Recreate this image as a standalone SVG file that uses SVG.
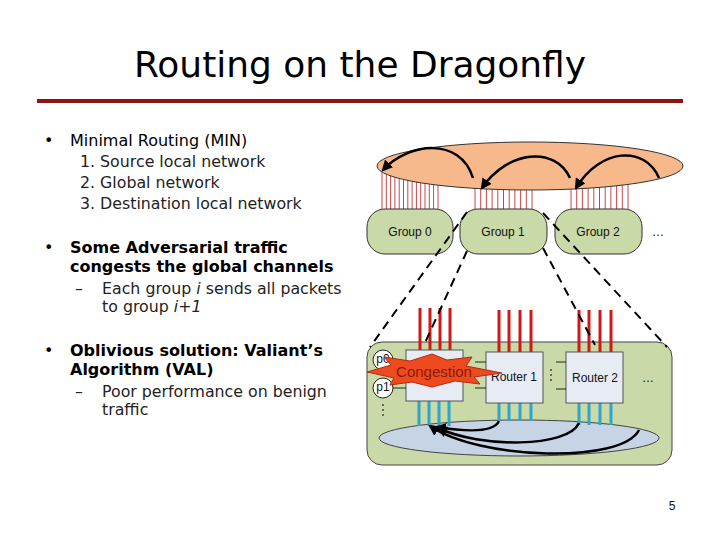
<svg xmlns="http://www.w3.org/2000/svg" width="720" height="540" viewBox="0 0 720 540">
<style>
.t{font-family:"DejaVu Sans",Verdana,sans-serif;fill:#000}
.b{font-size:16px}
.bb{font-size:16px;font-weight:bold}
.s{font-size:15.8px;fill:#222}
.lbl{font-family:"Liberation Sans",Arial,sans-serif;font-size:12px;fill:#111}
.grp{fill:#C9D9A7;stroke:#333;stroke-width:1}
.rt{fill:#E7ECF4;stroke:#555;stroke-width:1}
.gl{stroke:#C8484A;stroke-width:1}
.rl{stroke:#D01818;stroke-width:3}
.bl{stroke:#2FA6CA;stroke-width:3}
.arr{fill:none;stroke:#000;stroke-width:2.5}
.dash{fill:none;stroke:#000;stroke-width:2;stroke-dasharray:9,6}
.sh{stroke:#222;stroke-width:1}
</style>
<defs>
<marker id="ah" viewBox="0 0 10 10" refX="8" refY="5" markerWidth="4.5" markerHeight="4.5" orient="auto" markerUnits="strokeWidth">
<path d="M0,0 L10,5 L0,10 z" fill="#000"/>
</marker>
</defs>
<rect width="720" height="540" fill="#fff"/>
<text class="t" x="360" y="77" font-size="35" text-anchor="middle" textLength="452" lengthAdjust="spacingAndGlyphs">Routing on the Dragonfly</text>
<rect x="37" y="99" width="646" height="4" fill="#8E1414"/>

<g id="text-left">
<text class="t b" x="44" y="146">•</text>
<text class="t b" x="70" y="146">Minimal Routing (MIN)</text>
<text class="t s" x="80" y="167">1. Source local network</text>
<text class="t s" x="80" y="188">2. Global network</text>
<text class="t s" x="80" y="209">3. Destination local network</text>
<text class="t b" x="44" y="253">•</text>
<text class="t bb" x="70" y="253">Some Adversarial traffic</text>
<text class="t bb" x="70" y="272">congests the global channels</text>
<text class="t s" x="75" y="294">–</text>
<text class="t s" x="102" y="294">Each group <tspan font-style="italic">i</tspan> sends all packets</text>
<text class="t s" x="102" y="312">to group <tspan font-style="italic">i+1</tspan></text>
<text class="t b" x="44" y="356">•</text>
<text class="t bb" x="70" y="356">Oblivious solution: Valiant’s</text>
<text class="t bb" x="70" y="375">Algorithm (VAL)</text>
<text class="t s" x="75" y="397">–</text>
<text class="t s" x="102" y="397">Poor performance on benign</text>
<text class="t s" x="102" y="415">traffic</text>
</g>

<g id="global-links">
<path class="gl" d="M382,170V210M386.3,170V210M390.6,170V210M394.9,170V210M399.2,170V210M403.5,170V210M407.8,170V210M412.1,170V210M416.4,170V210M420.7,170V210M425,170V210M429.3,170V210M433.6,170V210M438,170V210"/>
<path class="gl" d="M475,175V210M480.7,175V210M486.4,175V210M492.1,175V210M497.8,175V210M503.5,175V210M509.2,175V210M514.9,175V210M520.6,175V210M526.3,175V210M532,175V210"/>
<path class="gl" d="M571,175V210M576.7,175V210M582.4,175V210M588.1,175V210M593.8,175V210M599.5,175V210M605.2,175V210M610.9,175V210M616.6,175V210M622.3,175V210M628,175V210"/>
</g>
<g id="global-network">
<ellipse cx="530" cy="166" rx="153" ry="24" fill="#F7B98B" stroke="#333" stroke-width="1"/>
</g>
<g id="group0"><rect class="grp" x="367" y="209" width="86" height="45" rx="18"/><text class="lbl" x="410" y="236" text-anchor="middle">Group 0</text></g>
<g id="group1"><rect class="grp" x="460" y="209" width="87" height="45" rx="18"/><text class="lbl" x="503" y="236" text-anchor="middle">Group 1</text></g>
<g id="group2"><rect class="grp" x="555" y="209" width="87" height="45" rx="18"/><text class="lbl" x="598" y="236" text-anchor="middle">Group 2</text></g>
<text class="lbl" x="658" y="236" text-anchor="middle" fill="#444">…</text>

<g id="group-detail">
<rect x="367" y="342" width="305" height="123" rx="15" fill="#C9D9A7" stroke="#444" stroke-width="1"/>
<ellipse cx="519" cy="438" rx="140" ry="18" fill="#C7D4E6" stroke="#444" stroke-width="1"/>
</g>

<g id="router0">
<path class="rl" d="M420,308V350M430,308V350M440,308V350M450,308V350"/>
<path class="bl" d="M419,401V426M429,401V426M439,401V426M449,401V426"/>
<rect class="rt" x="406" y="350" width="57" height="51"/>
</g>
<g id="router1">
<path class="rl" d="M499,310V352M509,310V352M520,310V352M531,310V352"/>
<path class="bl" d="M499,403V421M509,403V421M520,403V421M531,403V421"/>
<rect class="rt" x="486" y="352" width="57" height="51"/>
<text class="lbl" x="514" y="381" text-anchor="middle">Router 1</text>
</g>
<g id="router2">
<path class="rl" d="M579,310V352M589,310V352M600,310V352M611,310V352"/>
<path class="bl" d="M579,403V425M589,403V425M600,403V425M611,403V425"/>
<rect class="rt" x="566" y="352" width="57" height="51"/>
<text class="lbl" x="595" y="382" text-anchor="middle">Router 2</text>
</g>
<text class="lbl" x="648" y="382" text-anchor="middle" fill="#444">…</text>

<g id="p0"><circle cx="383" cy="360" r="10" fill="#fff" stroke="#222"/><text class="lbl" x="383" y="363" font-size="9" text-anchor="middle">p0</text></g>
<g id="p1"><circle cx="383" cy="388" r="10" fill="#fff" stroke="#222"/><text class="lbl" x="383" y="391" font-size="9" text-anchor="middle">p1</text></g>

<g id="connectors">
<path class="sh" d="M393,388H406M393,362H406M475,388H486M475,362H486M556,362H566M556,389H566"/>
<g fill="#333"><circle cx="383" cy="405" r="0.9"/><circle cx="383" cy="410" r="0.9"/><circle cx="383" cy="415" r="0.9"/><circle cx="551" cy="370" r="0.9"/><circle cx="551" cy="375" r="0.9"/><circle cx="551" cy="380" r="0.9"/></g>
<path class="arr" marker-end="url(#ah)" d="M659,178 C645,145 600,148 576,188"/>
<path class="arr" marker-end="url(#ah)" d="M570,178 C555,146 508,150 482,188"/>
<path class="arr" marker-end="url(#ah)" d="M473,178 C460,136 408,143 383,170"/>
<path class="arr" marker-end="url(#ah)" d="M499,421 C494,432 468,432 437,427"/>
<path class="arr" marker-end="url(#ah)" d="M579,423 C568,448 480,448 438,428"/>
<path class="arr" marker-end="url(#ah)" d="M639,430 C622,464 480,460 430,426"/>
<path class="dash" d="M467,212L370,347M467,251L424,345M543,248L595,345M543,213L667,347"/>
</g>

<g id="congestion">
<polygon points="367,372 391,365 384,357 410,361 432,354 447,360 472,357 466,366 502,373 474,377 480,384 455,381 432,387 412,382 390,385 394,378" fill="#EF4A1F" stroke="#B32A10" stroke-width="1"/>
<text x="434" y="377" font-family="'Liberation Sans',Arial,sans-serif" font-size="15" fill="#8A1C05" text-anchor="middle">Congestion</text>
</g>

<text class="lbl" x="672" y="510" font-size="13" fill="#333" text-anchor="middle">5</text>
</svg>
